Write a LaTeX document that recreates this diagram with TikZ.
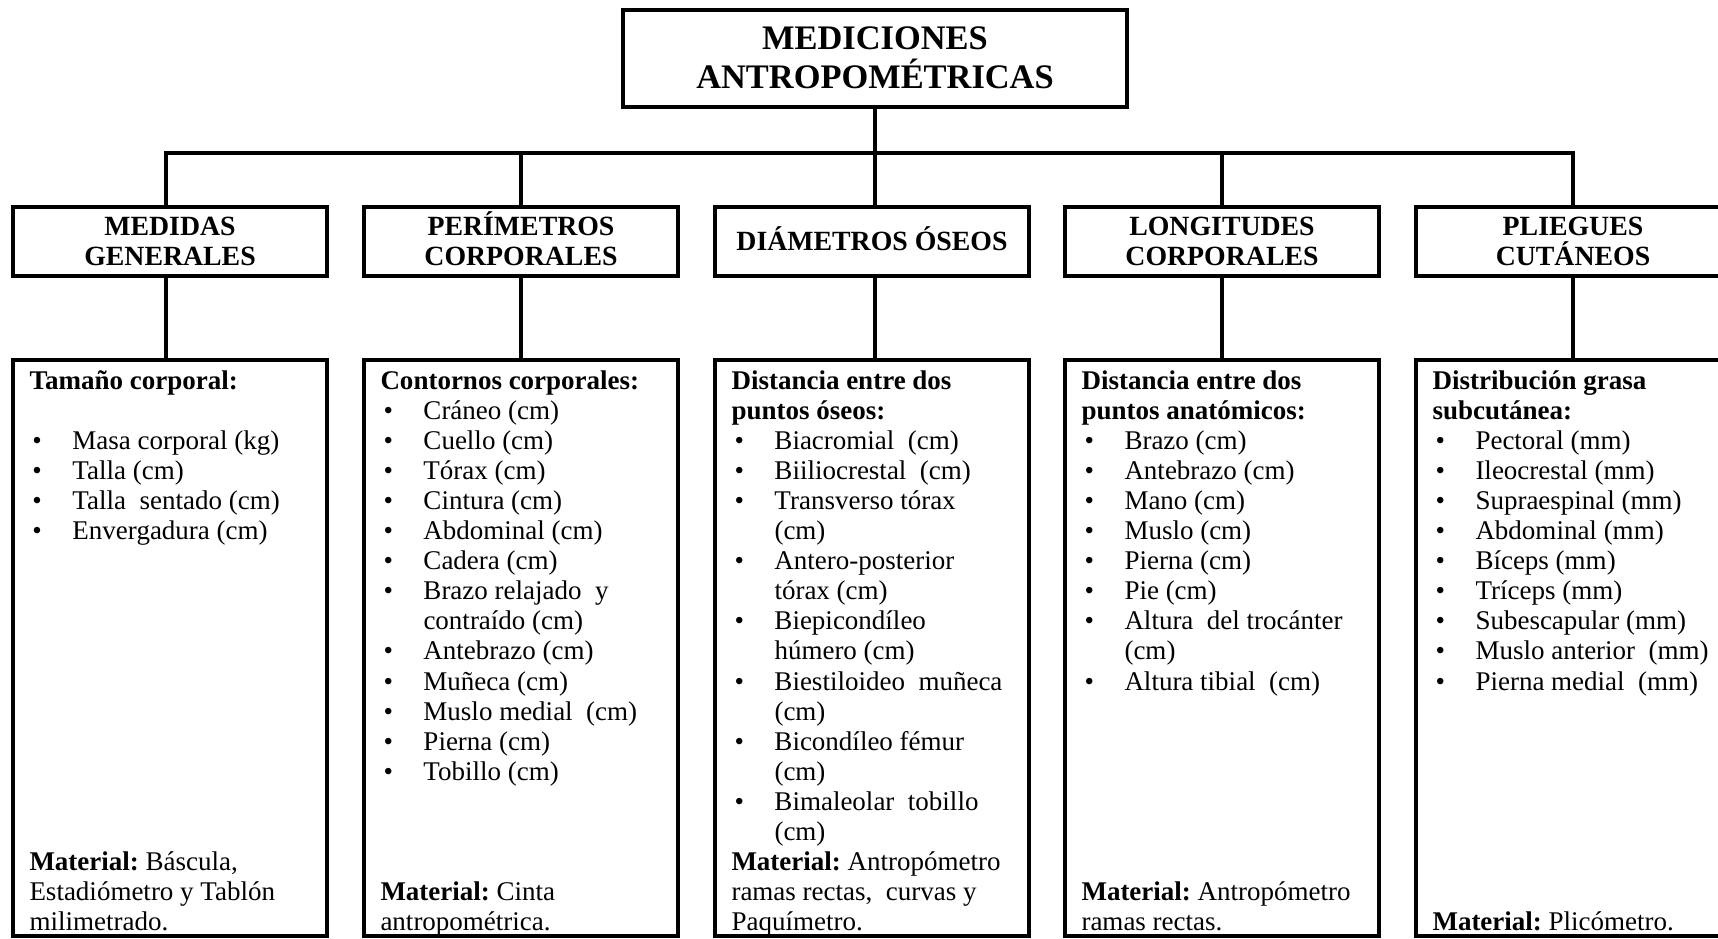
\documentclass[tikz,border=0pt]{standalone}
\usepackage{fontspec}
\setmainfont{Liberation Serif}
\frenchspacing

% list helpers: bullet item, continuation line, text block with fixed line pitch
\newcommand\itm[1]{\hspace*{1.5pt}\makebox[20pt][l]{\textbullet}#1}
\newcommand\cnt[1]{\hspace*{21.5pt}#1}
\newcommand\bodyfont{\fontsize{13.5pt}{15.05pt}\selectfont\lineskiplimit=-\maxdimen}
\newcommand\listblock[1]{\begin{minipage}[t]{150pt}\bodyfont #1\end{minipage}}
\newcommand\firstbase{389}
\newcommand\pitch{30.1}

\tikzset{
  every node/.style={inner sep=0pt, outer sep=0pt},
  box/.style={draw, line width=2pt, rectangle},
  titlebox/.style={box, minimum width=251.6pt, minimum height=48.5pt,
    font=\fontsize{17.2pt}{19.4pt}\selectfont\bfseries, align=center},
  headbox/.style={box, minimum width=156.7pt, minimum height=34.5pt,
    font=\fontsize{13.9pt}{15pt}\selectfont\bfseries, align=center},
  listbox/.style={box, minimum width=156.7pt, minimum height=287.75pt},
  listtext/.style={anchor=base west},
  conn/.style={line width=2pt, line join=miter},
}

\begin{document}
\begin{tikzpicture}[x=0.5pt, y=-0.5pt]
\useasboundingbox (0,0) rectangle (1718,938);
\clip (0,0) rectangle (1718,938);
\fill[white] (0,0) rectangle (1718,938);

% root
\node[titlebox] (top) at (875,58) {MEDICIONES\\ANTROPOMÉTRICAS};

% second level
\node[headbox] (h1) at (170,241.5)  {MEDIDAS\\GENERALES};
\node[headbox] (h2) at (521,241.5)  {PER\smash{Í}METROS\\CORPORALES};
\node[headbox] (h3) at (872,241.5)  {DI\smash{Á}METROS \smash{Ó}SEOS};
\node[headbox] (h4) at (1222,241.5) {LONGITUDES\\CORPORALES};
\node[headbox] (h5) at (1573,241.5) {PLIEGUES\\CUTÁNEOS};

% third level frames
\node[listbox] (d1) at (170,647.75)  {};
\node[listbox] (d2) at (521,647.75)  {};
\node[listbox] (d3) at (872,647.75)  {};
\node[listbox] (d4) at (1222,647.75) {};
\node[listbox] (d5) at (1573,647.75) {};

% connectors: bus under the root, drops to every branch
\coordinate (bus) at (0,153);
\draw[conn] (top.south) -- (top.south |- h3.north);
\draw[conn] ([xshift=-2pt]h1.north) |- (h5.north |- bus) -- (h5.north);
\foreach \i in {2,4} \draw[conn] (h\i.north) -- (h\i.north |- bus);
\draw[conn] ([xshift=-2pt]h1.south) -- ([xshift=-2pt]d1.north);
\draw[conn] (top.south |- h3.south) -- (top.south |- d3.north);
\foreach \i in {2,4,5} \draw[conn] (h\i.south) -- (d\i.north);

% column 1
\node[listtext] (t1) at (29.5,\firstbase) {\listblock{%
  \textbf{Tamaño corporal:}\\[15.05pt]
  \itm{Masa corporal (kg)}\\
  \itm{Talla (cm)}\\
  \itm{Talla\ \ sentado (cm)}\\
  \itm{Envergadura (cm)}}};
\node[listtext] (m1) at (29.5,{\firstbase+\pitch*16}) {\listblock{%
  \textbf{Material:} Báscula,\\
  Estadiómetro y Tablón\\
  milimetrado.}};

% column 2
\node[listtext] (t2) at (380.5,\firstbase) {\listblock{%
  \textbf{Contornos corporales:}\\
  \itm{Cráneo (cm)}\\
  \itm{Cuello (cm)}\\
  \itm{Tórax (cm)}\\
  \itm{Cintura (cm)}\\
  \itm{Abdominal (cm)}\\
  \itm{Cadera (cm)}\\
  \itm{Brazo relajado\ \ y}\\
  \cnt{contraído (cm)}\\
  \itm{Antebrazo (cm)}\\
  \itm{Muñeca (cm)}\\
  \itm{Muslo medial\ \ (cm)}\\
  \itm{Pierna (cm)}\\
  \itm{Tobillo (cm)}}};
\node[listtext] (m2) at (380.5,{\firstbase+\pitch*17}) {\listblock{%
  \textbf{Material:} Cinta\\
  antropométrica.}};

% column 3
\node[listtext] (t3) at (731.5,\firstbase) {\listblock{%
  \textbf{Distancia entre dos}\\
  \textbf{puntos óseos:}\\
  \itm{Biacromial\ \ (cm)}\\
  \itm{Biiliocrestal\ \ (cm)}\\
  \itm{Transverso tórax}\\
  \cnt{(cm)}\\
  \itm{Antero-posterior}\\
  \cnt{tórax (cm)}\\
  \itm{Biepicondíleo}\\
  \cnt{húmero (cm)}\\
  \itm{Biestiloideo\ \ muñeca}\\
  \cnt{(cm)}\\
  \itm{Bicondíleo fémur}\\
  \cnt{(cm)}\\
  \itm{Bimaleolar\ \ tobillo}\\
  \cnt{(cm)}}};
\node[listtext] (m3) at (731.5,{\firstbase+\pitch*16}) {\listblock{%
  \textbf{Material:} Antropómetro\\
  ramas rectas,\ \ curvas y\\
  Paquímetro.}};

% column 4
\node[listtext] (t4) at (1081.5,\firstbase) {\listblock{%
  \textbf{Distancia entre dos}\\
  \textbf{puntos anatómicos:}\\
  \itm{Brazo (cm)}\\
  \itm{Antebrazo (cm)}\\
  \itm{Mano (cm)}\\
  \itm{Muslo (cm)}\\
  \itm{Pierna (cm)}\\
  \itm{Pie (cm)}\\
  \itm{Altura\ \ del trocánter}\\
  \cnt{(cm)}\\
  \itm{Altura tibial\ \ (cm)}}};
\node[listtext] (m4) at (1081.5,{\firstbase+\pitch*17}) {\listblock{%
  \textbf{Material:} Antropómetro\\
  ramas rectas.}};

% column 5
\node[listtext] (t5) at (1432.5,\firstbase) {\listblock{%
  \textbf{Distribución grasa}\\
  \textbf{subcutánea:}\\
  \itm{Pectoral (mm)}\\
  \itm{Ileocrestal (mm)}\\
  \itm{Supraespinal (mm)}\\
  \itm{Abdominal (mm)}\\
  \itm{Bíceps (mm)}\\
  \itm{Tríceps (mm)}\\
  \itm{Subescapular (mm)}\\
  \itm{Muslo anterior\ \ (mm)}\\
  \itm{Pierna medial\ \ (mm)}}};
\node[listtext] (m5) at (1432.5,{\firstbase+\pitch*18}) {\listblock{%
  \textbf{Material:} Plicómetro.}};
\end{tikzpicture}
\end{document}
